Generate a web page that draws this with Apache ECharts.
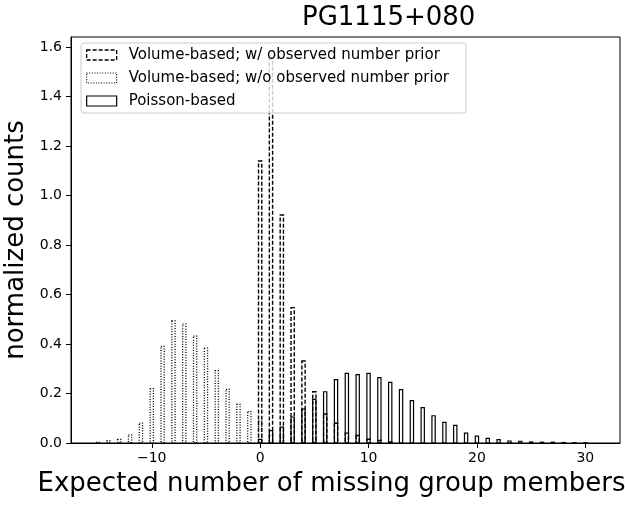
<!DOCTYPE html>
<html>
<head>
<meta charset="utf-8">
<script src="https://cdn.jsdelivr.net/npm/echarts@6/dist/echarts.min.js"></script>
<style>html,body{margin:0;padding:0;background:#fff}#c{width:625px;height:505px}</style>
</head>
<body>
<div id="c"></div>
<script>
// ---- data ----
const titleText = 'PG1115+080';
const seriesNames = ['Volume-based; w/ observed number prior', 'Volume-based; w/o observed number prior', 'Poisson-based'];
const xTicks = [-10, 0, 10, 20, 30];
const yTicks = [0, 0.2, 0.4, 0.6, 0.8, 1.0, 1.2, 1.4, 1.6];

const withPriorX = [0, 1, 2, 3, 4, 5, 6, 7, 8, 9, 10, 11, 12];
const withPriorY = [1.139, 1.555, 0.921, 0.547, 0.331, 0.207, 0.117, 0.080, 0.040, 0.030, 0.015, 0.010, 0.004];

const withoutPriorX = [-15, -14, -13, -12, -11, -10, -9, -8, -7, -6, -5, -4, -3, -2, -1, 0, 1, 2, 3, 4, 5, 6];
const withoutPriorY = [0.002, 0.008, 0.015, 0.033, 0.080, 0.220, 0.390, 0.493, 0.480, 0.432, 0.383, 0.292, 0.217, 0.156, 0.127, 0.088, 0.030, 0.020, 0.012, 0.008, 0.005, 0.003];

const poissonX = [0, 1, 2, 3, 4, 5, 6, 7, 8, 9, 10, 11, 12, 13, 14, 15, 16, 17, 18, 19, 20, 21, 22, 23, 24, 25, 26, 27, 28, 29, 30];
const poissonY = [0.015, 0.050, 0.064, 0.105, 0.137, 0.176, 0.207, 0.256, 0.281, 0.276, 0.281, 0.264, 0.245, 0.216, 0.171, 0.143, 0.110, 0.083, 0.071, 0.040, 0.028, 0.019, 0.014, 0.008, 0.007, 0.004, 0.003, 0.003, 0.002, 0.001, 0.001];

const binWidth = 0.3;
// ---- chart ----
const FONT = 'DejaVu Sans';
const DASH = [4, 2];
const DOT = [1, 1.6];

function pairs(xs, ys) { return xs.map((x, i) => [x, ys[i]]); }
function makeRender(dash, lw) {
  return function (params, api) {
    const x = api.value(0), y = api.value(1);
    const p0 = api.coord([x - binWidth / 2, y]);
    const p1 = api.coord([x + binWidth / 2, 0]);
    return {
      type: 'rect',
      shape: { x: p0[0], y: p0[1], width: p1[0] - p0[0], height: p1[1] - p0[1] },
      style: { fill: 'none', stroke: '#000', lineWidth: lw, lineDash: dash }
    };
  };
}

const chart = echarts.init(document.getElementById('c'), null, { renderer: 'canvas' });
chart.setOption({
  animation: false,
  backgroundColor: '#fff',
  textStyle: { fontFamily: FONT, color: '#000' },
  title: {
    text: titleText, left: 297, top: 0,
    textStyle: { fontFamily: FONT, fontSize: 26, fontWeight: 'normal', color: '#000' }
  },
  grid: { left: 71, right: 5, top: 37, bottom: 62, outerBoundsMode: 'none', containLabel: false,
    show: true, borderColor: '#000', borderWidth: 1, backgroundColor: 'transparent' },
  legend: {
    orient: 'vertical', left: 81, top: 43,
    padding: [4, 17, 4, 5], itemGap: 7, itemWidth: 30, itemHeight: 10,
    backgroundColor: 'rgba(255,255,255,0.8)', borderColor: '#ccc', borderWidth: 1, borderRadius: 3,
    textStyle: { fontFamily: FONT, fontSize: 15, color: '#000', lineHeight: 16, padding: [0, 0, 0, 7] },
    data: [
      { name: seriesNames[0], icon: 'rect', itemStyle: { color: 'rgba(0,0,0,0)', borderColor: '#000', borderWidth: 1.3, borderType: DASH } },
      { name: seriesNames[1], icon: 'rect', itemStyle: { color: 'rgba(0,0,0,0)', borderColor: '#000', borderWidth: 1.2, borderType: DOT } },
      { name: seriesNames[2], icon: 'rect', itemStyle: { color: 'rgba(0,0,0,0)', borderColor: '#000', borderWidth: 1.2, borderType: 'solid' } }
    ]
  },
  xAxis: {
    type: 'value', min: -17.45, max: 33.2,
    name: 'Expected number of missing group members', nameLocation: 'middle', nameGap: 28,
    nameTextStyle: { fontFamily: FONT, fontSize: 26, color: '#000', padding: [0, 28, 0, 0] },
    axisLine: { show: true, onZero: false, lineStyle: { color: '#000', width: 1 } },
    axisTick: { show: true, inside: false, length: 5, customValues: xTicks, lineStyle: { color: '#000' } },
    axisLabel: { show: true, margin: 8, fontFamily: FONT, fontSize: 14, color: '#000', customValues: xTicks,
      formatter: v => (v < 0 ? '\u2212' + Math.abs(v) : String(v)) },
    splitLine: { show: false }
  },
  yAxis: {
    type: 'value', min: 0, max: 1.64,
    name: 'normalized counts', nameLocation: 'middle', nameGap: 32,
    nameTextStyle: { fontFamily: FONT, fontSize: 26, color: '#000' },
    axisLine: { show: true, onZero: false, lineStyle: { color: '#000', width: 1 } },
    axisTick: { show: true, inside: false, length: 5, customValues: yTicks, lineStyle: { color: '#000' } },
    axisLabel: { show: true, margin: 9, fontFamily: FONT, fontSize: 14, color: '#000', customValues: yTicks,
      formatter: v => v.toFixed(1) },
    splitLine: { show: false }
  },
  series: [
    { name: seriesNames[0], type: 'custom', renderItem: makeRender(DASH, 1.4), data: pairs(withPriorX, withPriorY), clip: true, z: 3 },
    { name: seriesNames[1], type: 'custom', renderItem: makeRender(DOT, 1.3), data: pairs(withoutPriorX, withoutPriorY), clip: true, z: 3 },
    { name: seriesNames[2], type: 'custom', renderItem: makeRender(null, 1.2), data: pairs(poissonX, poissonY), clip: true, z: 3 }
  ]
});
</script>
</body>
</html>
